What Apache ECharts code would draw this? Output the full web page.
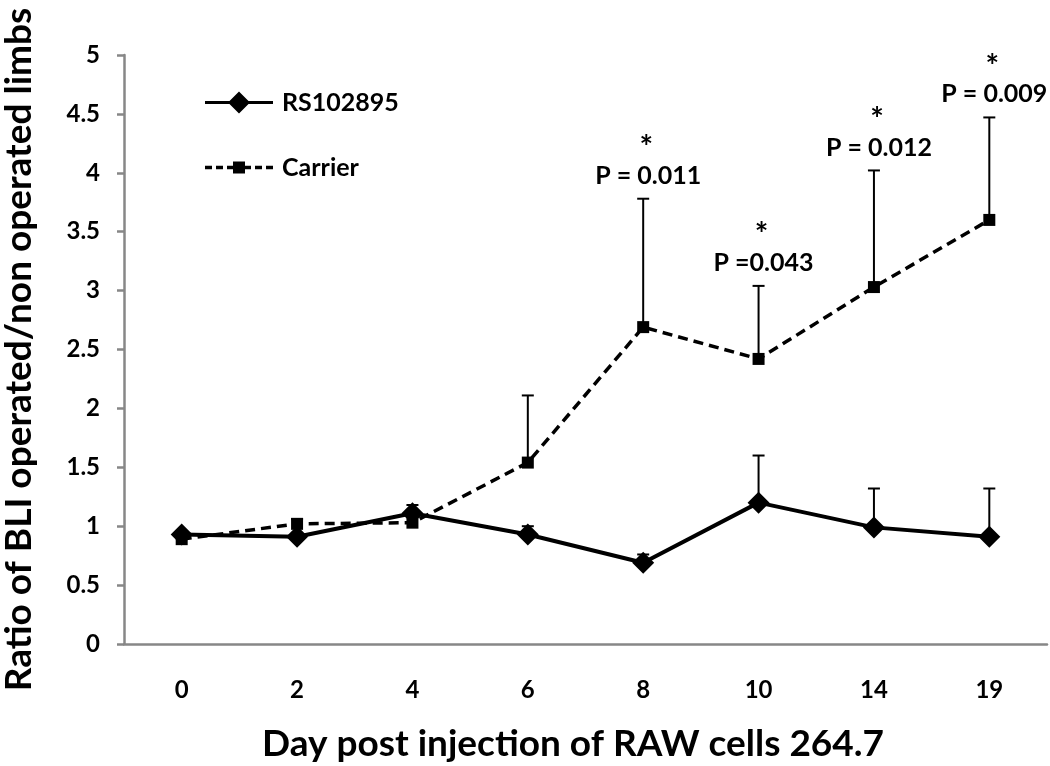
<!DOCTYPE html>
<html>
<head>
<meta charset="utf-8">
<script src="https://cdn.jsdelivr.net/npm/echarts@6/dist/echarts.min.js"></script>
<style>html,body{margin:0;padding:0;background:#fff}#c{width:1050px;height:766px}</style>
</head>
<body>
<div id="c"></div>
<script>
var categories = ['0', '2', '4', '6', '8', '10', '14', '19'];
var rsValues = [0.93, 0.91, 1.11, 0.93, 0.69, 1.20, 0.99, 0.91];
var rsErrors = [0.02, 0.01, 0.07, 0.07, 0.07, 0.40, 0.33, 0.41];
var carrierValues = [0.89, 1.02, 1.03, 1.54, 2.69, 2.42, 3.03, 3.60];
var carrierErrors = [0.02, 0.04, 0.05, 0.57, 1.09, 0.62, 0.99, 0.87];
var pLabels = ['', '', '', '', 'P = 0.011', 'P =0.043', 'P = 0.012', 'P = 0.009'];
var yTicks = { min: 0, max: 5, interval: 0.5 };

var FONT = 'Lato';
var chart = echarts.init(document.getElementById('c'), null, { renderer: 'canvas' });

// legend icons (68 x 22 boxes): line with diamond / dashed line with square
var rsIcon = 'path://M0,9.5L68,9.5L68,12.5L0,12.5Z M34,0L45,11L34,22L23,11Z';
var carrierIcon = 'path://M0,9.3L7,9.3L7,12.7L0,12.7Z M11,9.3L18,9.3L18,12.7L11,12.7Z M22,9.3L28,9.3L28,12.7L22,12.7Z M28,5L40,5L40,17L28,17Z M40,9.3L46,9.3L46,12.7L40,12.7Z M50,9.3L57,9.3L57,12.7L50,12.7Z M61,9.3L68,9.3L68,12.7L61,12.7Z';

function errorSeries(name, values, errors, labels) {
  return {
    type: 'custom',
    name: name + ' err',
    z: 1,
    silent: true,
    data: values.map(function (v, i) { return [i, v, errors[i]]; }),
    renderItem: function (params, api) {
      var i = api.value(0), v = api.value(1), e = api.value(2);
      var p0 = api.coord([i, v]);
      var p1 = api.coord([i, v + e]);
      var children = [
        { type: 'line', shape: { x1: p0[0], y1: p0[1], x2: p1[0], y2: p1[1] }, style: { stroke: '#000', lineWidth: 2 } },
        { type: 'line', shape: { x1: p1[0] - 6, y1: p1[1], x2: p1[0] + 6, y2: p1[1] }, style: { stroke: '#000', lineWidth: 2 } }
      ];
      var lab = labels ? labels[params.dataIndex] : '';
      if (lab) {
        children.push({ type: 'text', style: { text: lab, x: p1[0] + 5, y: p1[1] - 23, align: 'center', verticalAlign: 'middle', font: 'bold 25px ' + FONT, fill: '#000' } });
        children.push({ type: 'text', style: { text: '*', x: p1[0] + 3, y: p1[1] - 50, align: 'center', verticalAlign: 'middle', font: 'bold 32px ' + FONT, fill: '#000' } });
      }
      return { type: 'group', children: children };
    }
  };
}

chart.setOption({
  animation: false,
  backgroundColor: '#fff',
  textStyle: { fontFamily: FONT },
  grid: { left: 124, right: 3, top: 55, bottom: 122, containLabel: false, outerBoundsMode: 'none' },
  legend: {
    orient: 'vertical',
    left: 200,
    top: 85,
    itemWidth: 68,
    itemHeight: 22,
    itemGap: 40,
    textStyle: { fontFamily: FONT, fontWeight: 'bold', fontSize: 25, color: '#000', padding: [0, 0, 0, 4] },
    data: [
      { name: 'RS102895', icon: rsIcon, itemStyle: { color: '#000' } },
      { name: 'Carrier', icon: carrierIcon, itemStyle: { color: '#000' } }
    ]
  },
  xAxis: {
    type: 'category',
    data: categories,
    boundaryGap: true,
    name: 'Day post injection of RAW cells 264.7',
    nameLocation: 'middle',
    nameGap: 82,
    nameTextStyle: { fontFamily: FONT, fontWeight: 'bold', fontSize: 37, color: '#000', padding: [0, 25, 0, 0] },
    axisLine: { lineStyle: { color: '#878787', width: 2.5 } },
    axisTick: { length: 7, lineStyle: { color: '#878787', width: 2.5 } },
    axisLabel: { margin: 34, fontFamily: FONT, fontWeight: 'bold', fontSize: 24, color: '#000' },
    splitLine: { show: false }
  },
  yAxis: {
    type: 'value',
    min: yTicks.min,
    max: yTicks.max,
    interval: yTicks.interval,
    name: 'Ratio of BLI operated/non operated limbs',
    nameLocation: 'middle',
    nameGap: 86,
    nameTextStyle: { fontFamily: FONT, fontWeight: 'bold', fontSize: 37, color: '#000' },
    axisLine: { show: true, lineStyle: { color: '#878787', width: 2.5 } },
    axisTick: { show: true, length: 7, lineStyle: { color: '#878787', width: 2.5 } },
    axisLabel: { margin: 24, fontFamily: FONT, fontWeight: 'bold', fontSize: 24, color: '#000' },
    splitLine: { show: false }
  },
  series: [
    errorSeries('RS102895', rsValues, rsErrors, null),
    errorSeries('Carrier', carrierValues, carrierErrors, pLabels),
    {
      name: 'Carrier',
      type: 'line',
      z: 3,
      data: carrierValues,
      symbol: 'rect',
      symbolSize: 12,
      itemStyle: { color: '#000' },
      lineStyle: { color: '#000', width: 3.5, type: [10, 6] }
    },
    {
      name: 'RS102895',
      type: 'line',
      z: 4,
      data: rsValues,
      symbol: 'diamond',
      symbolSize: 22,
      itemStyle: { color: '#000' },
      lineStyle: { color: '#000', width: 4 }
    }
  ]
});
</script>
</body>
</html>
